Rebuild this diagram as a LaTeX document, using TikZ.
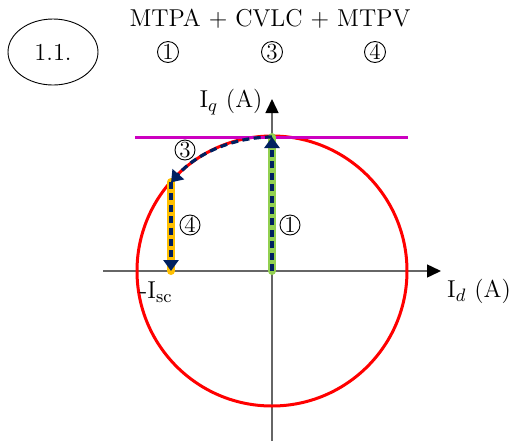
\documentclass[tikz,border=0pt]{standalone}
\usetikzlibrary{shapes.geometric,arrows.meta}
\definecolor{navy}{HTML}{002060}
\definecolor{lgreen}{HTML}{92D050}
\definecolor{gold}{HTML}{FFC000}
\definecolor{mag}{HTML}{CC00C0}
\begin{document}
\begin{tikzpicture}[x=0.5pt,y=-0.5pt,
  lbl/.style={font=\fontsize{12.2}{14}\selectfont, inner sep=0pt},
  cnum/.style={draw, circle, line width=0.45pt, minimum size=10pt, inner sep=0pt, font=\fontsize{11.5}{13}\selectfont},
  axis/.style={draw=gray!80!black, line width=0.75pt, -{Triangle[width=6.5pt,length=7pt,black]}},
  path/.style={navy, line width=1.6pt, dash pattern=on 3.5pt off 2.2pt, -{Triangle[width=7.5pt,length=5.5pt]}},
  band/.style={line width=4pt, line cap=round}]
\useasboundingbox (0,0) rectangle (515,446);
% reference points
\coordinate (O) at (272,271);
\coordinate (xl) at (103,271);
\coordinate (xr) at (441,271);
\coordinate (yb) at (272,441);
\coordinate (yt) at (272,99);
\coordinate (T) at (272,137);
\coordinate (P) at (171,182);
\coordinate (B) at (171,271);
\coordinate (ml) at (135,137);
\coordinate (mr) at (408,137);
% axes
\draw[axis] (xl) -- (xr);
\draw[axis] (yb) -- (yt);
% circle
\draw[red, line width=1.5pt] (O) circle[radius=135];
% voltage limit line
\draw[mag, line width=1.5pt] (ml) -- (mr);
% coloured bands
\draw[band, lgreen] (O) -- (T);
\draw[band, gold] (P) -- (B);
% trajectory
\draw[path] (O) -- (T);
\draw[path] (T) arc[start angle=-90, end angle=-138.4, radius=135];
\draw[path] (P) -- (B);
% labels
\node[lbl] (iq) at (231,102) {I$_q$ (A)};
\node[lbl] (id) at (479,291) {I$_d$ (A)};
\node[lbl] (isc) at (156,292) {-I$_{\mathrm{sc}}$};
\node[cnum] (c3) at (185,150) {3};
\node[cnum] (c4) at (190,225) {4};
\node[cnum] (c1) at (290,225) {1};
% header
\node[draw, ellipse, line width=0.45pt, minimum width=45pt, minimum height=33pt, lbl] (hdr) at (53,52) {1.1.};
\node[lbl] (title) at (270,19) {MTPA + CVLC + MTPV};
\node[cnum, minimum size=10.5pt] (t1) at (168,52) {1};
\node[cnum, minimum size=10.5pt] (t3) at (272,52) {3};
\node[cnum, minimum size=10.5pt] (t4) at (375,52) {4};
\end{tikzpicture}
\end{document}
